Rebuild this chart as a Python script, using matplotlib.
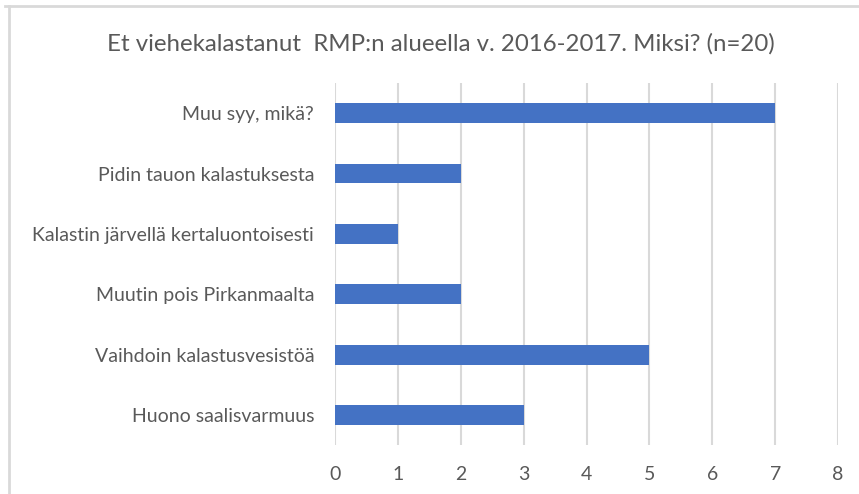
import matplotlib
matplotlib.use("Agg")
import matplotlib.pyplot as plt
from matplotlib.lines import Line2D

title = "Et viehekalastanut  RMP:n alueella v. 2016-2017. Miksi? (n=20)"
categories = [
    "Huono saalisvarmuus",
    "Vaihdoin kalastusvesistöä",
    "Muutin pois Pirkanmaalta",
    "Kalastin järvellä kertaluontoisesti",
    "Pidin tauon kalastuksesta",
    "Muu syy, mikä?",
]
counts = [3, 5, 2, 1, 2, 7]
xticks = list(range(0, 9))

plt.rcParams['font.family'] = ['Lato', 'DejaVu Sans']
text_color = '#595959'

fig = plt.figure(figsize=(8.59, 4.94), dpi=100)
ax = fig.add_axes([0.39, 0.099, 0.5856, 0.733])

ax.barh(range(len(categories)), counts, height=0.33, color='#4472C4', zorder=3)
ax.set_ylim(-0.5, len(categories) - 0.5)
ax.set_xlim(0, 8)
ax.set_xticks(xticks)
ax.set_yticks(range(len(categories)))
ax.set_yticklabels(categories)
ax.grid(axis='x', color='#d9d9d9', linewidth=1.5, zorder=0)
for s in ax.spines.values():
    s.set_visible(False)
ax.tick_params(axis='both', length=0, labelsize=14, colors=text_color)
ax.tick_params(axis='y', pad=15)
ax.tick_params(axis='x', pad=15)

fig.text(0.513, 0.912, title, ha='center', va='center', fontsize=17.3, color=text_color)

# chart frame (only top and left edges visible in the crop)
fig.add_artist(Line2D([5 / 859, 1], [1 - 6.5 / 494] * 2, color='#d9d9d9', linewidth=2))
fig.add_artist(Line2D([9 / 859] * 2, [0, 1 - 6.5 / 494], color='#d9d9d9', linewidth=2))

fig.savefig('out.png', dpi=100)
